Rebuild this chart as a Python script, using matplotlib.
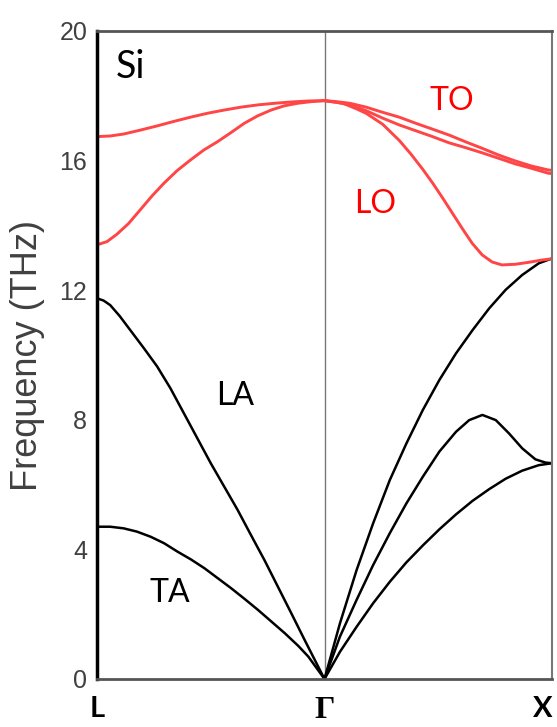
import matplotlib
matplotlib.use("Agg")
import matplotlib.pyplot as plt
from matplotlib import rcParams

rcParams["font.family"] = "sans-serif"
rcParams["font.sans-serif"] = ["Liberation Sans", "DejaVu Sans"]

# path coordinate: L = 0, Gamma = 1, X = 2
# L -> Gamma branches
q_ta_lg = [0, 0.058, 0.117, 0.175, 0.236, 0.295, 0.354, 0.413, 0.472, 0.531,
           0.590, 0.649, 0.708, 0.767, 0.826, 0.885, 0.929, 1.0]
f_ta_lg = [4.70, 4.70, 4.65, 4.55, 4.39, 4.19, 3.93, 3.69, 3.42, 3.11,
           2.80, 2.47, 2.13, 1.77, 1.41, 1.02, 0.69, 0.0]

q_la_lg = [0, 0.029, 0.058, 0.100, 0.146, 0.205, 0.264, 0.323, 0.382, 0.441,
           0.5, 0.559, 0.618, 0.677, 0.736, 0.795, 0.854, 0.913, 1.0]
f_la_lg = [11.75, 11.68, 11.54, 11.20, 10.77, 10.22, 9.65, 8.97, 8.20, 7.43,
           6.66, 5.94, 5.22, 4.44, 3.67, 2.85, 2.03, 1.20, 0.0]

q_to_lg = [0, 0.058, 0.117, 0.190, 0.264, 0.338, 0.411, 0.485, 0.559, 0.633,
           0.708, 0.782, 0.856, 0.929, 1.0]
f_to_lg = [16.74, 16.76, 16.82, 16.94, 17.07, 17.21, 17.34, 17.46, 17.56, 17.65,
           17.72, 17.77, 17.81, 17.84, 17.85]

q_lo_lg = [0, 0.044, 0.088, 0.139, 0.190, 0.242, 0.294, 0.352, 0.411, 0.470,
           0.529, 0.588, 0.647, 0.706, 0.765, 0.823, 0.882, 0.941, 1.0]
f_lo_lg = [13.40, 13.50, 13.73, 14.06, 14.48, 14.91, 15.30, 15.69, 16.02, 16.33,
           16.58, 16.86, 17.15, 17.38, 17.56, 17.69, 17.77, 17.82, 17.85]

# Gamma -> X branches
q_ac_gx = [1.0, 1.068, 1.141, 1.214, 1.287, 1.360, 1.432, 1.505, 1.578, 1.651,
           1.724, 1.796, 1.869, 1.942, 2.0]
f_la_gx = [0.0, 1.72, 3.36, 4.81, 6.14, 7.27, 8.30, 9.23, 10.05, 10.77,
           11.44, 12.01, 12.47, 12.83, 12.98]
f_ta1_gx = [0.0, 0.84, 1.61, 2.34, 3.00, 3.60, 4.12, 4.62, 5.08, 5.50,
            5.86, 6.18, 6.43, 6.60, 6.66]

q_ta2_gx = [1.0, 1.068, 1.141, 1.214, 1.287, 1.360, 1.432, 1.505, 1.578, 1.636,
            1.694, 1.753, 1.811, 1.869, 1.927, 1.971, 2.0]
f_ta2_gx = [0.0, 1.31, 2.44, 3.52, 4.50, 5.42, 6.24, 7.02, 7.63, 7.99,
            8.15, 7.99, 7.58, 7.12, 6.78, 6.68, 6.66]

q_lo_gx = [1.0, 1.081, 1.140, 1.183, 1.256, 1.329, 1.380, 1.431, 1.475, 1.518,
           1.562, 1.606, 1.649, 1.693, 1.737, 1.780, 1.838, 1.897, 1.955, 2.0]
f_lo_gx = [17.85, 17.77, 17.60, 17.46, 17.12, 16.62, 16.20, 15.74, 15.31, 14.86,
           14.38, 13.90, 13.45, 13.09, 12.87, 12.78, 12.80, 12.86, 12.93, 12.97]

q_to_gx = [1.0, 1.052, 1.111, 1.183, 1.256, 1.329, 1.402, 1.475, 1.547, 1.620,
           1.693, 1.766, 1.838, 1.911, 1.984, 2.0]
f_to1_gx = [17.85, 17.82, 17.77, 17.65, 17.49, 17.34, 17.15, 16.97, 16.79, 16.58,
            16.38, 16.17, 15.99, 15.83, 15.71, 15.70]
f_to2_gx = [17.85, 17.80, 17.72, 17.54, 17.31, 17.10, 16.92, 16.74, 16.55, 16.40,
            16.24, 16.07, 15.90, 15.76, 15.61, 15.60]

sym_pos = [0, 1, 2]
sym_labels = ["L", "\u0393", "X"]

acoustic = [
    (q_ta_lg, f_ta_lg), (q_la_lg, f_la_lg),
    (q_ac_gx, f_ta1_gx), (q_ta2_gx, f_ta2_gx), (q_ac_gx, f_la_gx),
]
optical = [
    (q_to_lg, f_to_lg), (q_lo_lg, f_lo_lg),
    (q_lo_gx, f_lo_gx), (q_to_gx, f_to1_gx), (q_to_gx, f_to2_gx),
]

fig = plt.figure(figsize=(5.57, 7.27), dpi=100)
ax = fig.add_axes([97 / 557, 1 - 679 / 727, 455 / 557, 648 / 727])

for q, f in acoustic:
    ax.plot(q, f, color="black", lw=1.8, solid_joinstyle="round",
            solid_capstyle="round")
for q, f in optical:
    ax.plot(q, f, color="#ff4545", lw=2.1, solid_joinstyle="round",
            solid_capstyle="round")

ax.axvline(1, color="#777777", lw=1.0, zorder=0)

ax.set_xlim(0, 2)
ax.set_ylim(0, 20)
ax.set_yticks([0, 4, 8, 12, 16, 20])
ax.tick_params(axis="y", length=0, pad=7, labelsize=18, labelcolor="#404040")
ax.set_xticks(sym_pos)
ax.set_xticklabels(sym_labels)
ax.tick_params(axis="x", length=0, pad=12)
xl = ax.get_xticklabels()
for lab in xl:
    lab.set_fontfamily("Lato")
    lab.set_fontweight("bold")
    lab.set_fontsize(21)
    lab.set_color("black")
xl[1].set_fontfamily("Liberation Serif")
xl[1].set_fontsize(23)
xl[2].set_horizontalalignment("right")

ax.set_ylabel("Frequency (THz)", fontsize=26, color="#404040")
ax.yaxis.set_label_coords(-0.115, 0.5)

for side in ["top", "bottom"]:
    ax.spines[side].set_color("#555555")
    ax.spines[side].set_linewidth(2.0)
ax.spines["right"].set_color("#777777")
ax.spines["right"].set_linewidth(1.5)
ax.spines["left"].set_color("black")
ax.spines["left"].set_linewidth(2.5)

lbl = dict(fontfamily="Lato", ha="center", va="center")
ax.text(0.149, 18.9, "Si", fontsize=27, color="black", **lbl)
ax.text(0.321, 2.65, "TA", fontsize=23, color="black", **lbl)
ax.text(0.607, 8.75, "LA", fontsize=23, color="black", **lbl)
ax.text(1.222, 14.65, "LO", fontsize=23, color="red", **lbl)
ax.text(1.56, 17.85, "TO", fontsize=23, color="red", **lbl)

fig.savefig("out.png", dpi=100)
